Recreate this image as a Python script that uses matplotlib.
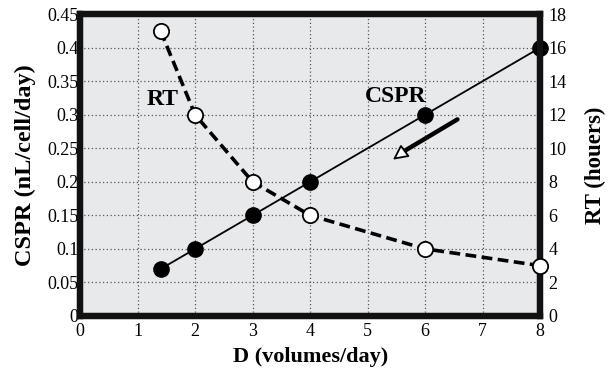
import numpy as np
import matplotlib.pyplot as plt

plt.rcParams['font.family'] = ['Liberation Serif', 'DejaVu Serif']

# data
D = [1.4, 2, 3, 4, 6, 8]
cspr = [0.07, 0.1, 0.15, 0.2, 0.3, 0.4]
rt = [17, 12, 8, 6, 4, 3]

fig = plt.figure(figsize=(6.08, 3.70), dpi=100)
ax = fig.add_axes([0.1316, 0.146, 0.757, 0.816])
ax2 = ax.twinx()

ax.set_facecolor('#e8e9eb')
ax.set_xlim(0, 8)
ax.set_ylim(0, 0.45)
ax2.set_ylim(0, 18)
ax.set_xticks(range(0, 9))
ax.set_yticks(np.arange(0, 0.451, 0.05))
ax.set_yticklabels(['0', '0.05', '0.1', '0.15', '0.2', '0.25', '0.3', '0.35', '0.4', '0.45'])
ax2.set_yticks(range(0, 19, 2))

ax.grid(True, color='#555555', linestyle=(0, (1, 2)), linewidth=0.9)
ax.set_axisbelow(True)

for a in (ax, ax2):
    a.tick_params(length=0, labelsize=13, pad=1)
    for s in a.spines.values():
        s.set_linewidth(4.5)
        s.set_color('#111111')
ax.tick_params(axis='x', pad=5)
ax2.tick_params(pad=6)

ax.plot(D, cspr, '-', color='black', lw=1.3, marker='o', ms=11,
        mfc='black', mec='black', zorder=3, clip_on=False)
ax2.plot(D, rt, color='black', lw=2.6, linestyle=(0, (3, 1.5)), marker='o', ms=11,
         mfc='white', mec='black', mew=1.3, zorder=3, clip_on=False)

ax.text(1.43, 0.322, 'RT', fontsize=17, fontweight='bold', ha='center', va='center')
ax.text(5.48, 0.327, 'CSPR', fontsize=17, fontweight='bold', ha='center', va='center')
# arrow: thick shaft plus a hollow head
ax.annotate('', xy=(5.62, 0.245), xytext=(6.56, 0.293),
            arrowprops=dict(arrowstyle='-', lw=3.2, color='black',
                            shrinkA=0, shrinkB=0))
ax.annotate('', xy=(5.44, 0.233), xytext=(5.66, 0.247),
            arrowprops=dict(arrowstyle='-|>,head_length=0.9,head_width=0.45',
                            lw=1.3, ec='black', fc='white', shrinkA=0, shrinkB=0))

ax.set_xlabel('D (volumes/day)', fontsize=16, fontweight='bold', labelpad=5)
ax.set_ylabel('CSPR (nL/cell/day)', fontsize=17.5, fontweight='bold', labelpad=8)
ax2.set_ylabel('RT (houers)', fontsize=16.5, fontweight='bold', labelpad=13)

fig.savefig('out.png', dpi=100)
